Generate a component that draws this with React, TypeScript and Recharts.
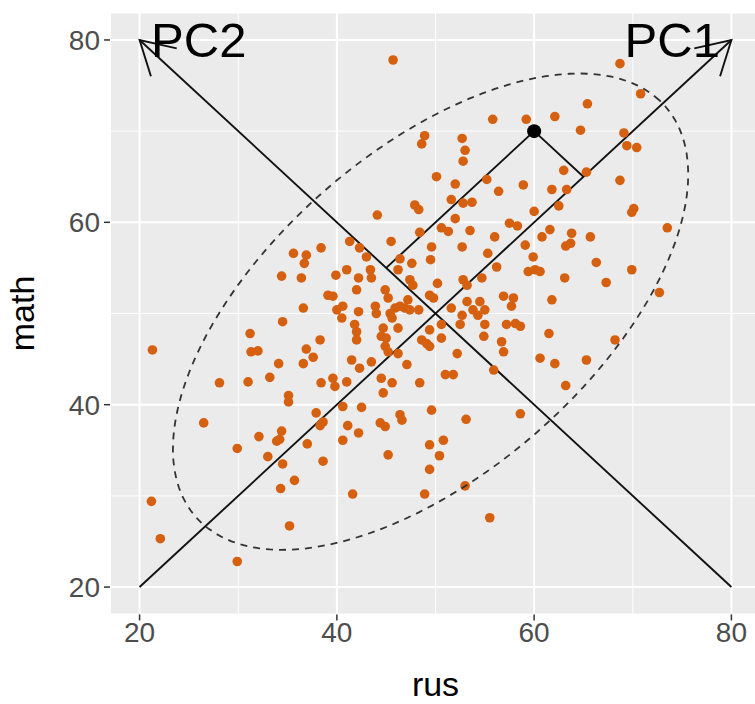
import React from 'react'
import {
  ScatterChart,
  Scatter,
  XAxis,
  YAxis,
  CartesianGrid,
  ReferenceLine,
  ReferenceDot,
} from 'recharts'

// [rus, math] pairs
const lowerLeft: [number, number][] = [
  [38.4, 57.2], [35.6, 56.6], [36.9, 56.4], [36.7, 55.5], [34.4, 54.1], [36.4, 53.9],
  [39.1, 52.0], [36.6, 50.6], [34.5, 49.1], [31.2, 47.8], [38.3, 47.1], [21.3, 46.0],
  [31.3, 45.8], [32.0, 45.9], [36.9, 46.1], [37.6, 45.2], [34.1, 44.5], [36.6, 44.5],
  [28.1, 42.4], [31.0, 42.5], [33.2, 43.0], [38.4, 42.4], [35.1, 41.0], [35.1, 40.3],
  [26.5, 38.0], [32.1, 36.5], [34.4, 37.1], [34.2, 36.2], [33.9, 36.0], [37.9, 39.1],
  [38.6, 38.1], [38.3, 37.7], [29.9, 35.2], [33.0, 34.3], [34.5, 33.5], [37.0, 35.7],
  [38.6, 33.8], [35.7, 31.7], [34.3, 30.8], [21.2, 29.4], [35.2, 26.7], [22.1, 25.3],
  [29.9, 22.8],
]

const middle: [number, number][] = [
  [45.7, 77.8], [55.8, 71.3], [48.9, 69.5], [48.6, 68.6], [52.7, 69.2], [53.0, 67.9],
  [52.8, 66.7], [50.1, 65.0], [52.0, 64.2], [55.2, 64.7], [56.4, 63.4],
  [47.9, 61.9], [48.3, 61.4], [51.6, 62.5], [52.8, 62.1], [53.7, 62.2], [44.1, 60.8],
  [52.0, 60.4], [50.6, 59.4], [51.3, 59.0], [53.5, 59.1], [57.5, 59.9], [58.3, 59.6],
  [56.0, 58.4], [45.5, 57.9], [48.4, 58.9], [41.3, 57.9], [42.3, 57.2], [43.0, 56.2],
  [49.6, 57.3], [52.7, 57.3], [55.3, 56.6], [49.5, 55.9], [56.2, 55.1], [46.4, 56.0],
  [46.2, 54.8], [47.6, 55.5], [39.9, 54.2], [41.0, 54.8], [42.2, 53.9], [43.4, 54.8],
  [43.5, 53.9], [47.4, 53.7], [47.7, 53.1], [50.2, 53.3], [52.8, 53.7], [53.2, 53.1],
  [54.7, 53.9], [39.6, 51.9], [42.0, 52.6], [44.9, 52.6], [45.2, 51.7], [47.2, 51.5],
  [49.4, 52.0], [49.8, 51.7], [53.2, 51.3], [54.5, 51.3], [55.0, 50.4], [56.9, 51.9],
  [57.9, 51.7], [57.7, 50.8], [40.0, 50.4], [40.6, 50.8], [40.5, 49.5], [42.2, 50.2],
  [43.9, 50.8], [44.0, 50.0], [45.4, 50.0], [45.9, 50.6], [46.4, 50.8], [46.9, 50.6],
  [47.4, 50.4], [48.3, 50.4], [45.6, 49.5], [51.6, 50.6], [52.7, 49.8], [52.5, 48.8],
  [53.8, 50.4], [54.3, 49.8], [41.8, 48.8], [42.0, 48.0], [42.0, 47.1], [44.7, 48.4],
  [44.5, 47.5], [45.0, 47.3], [46.2, 48.4], [44.9, 46.4], [45.2, 45.8], [50.6, 48.8],
  [49.4, 48.2], [55.0, 48.8], [57.2, 48.8], [58.1, 48.9], [58.6, 48.6], [48.6, 47.1],
  [49.1, 46.7], [49.4, 46.4], [46.2, 45.6], [50.6, 47.3], [54.9, 47.5], [56.7, 46.9],
  [56.9, 45.8], [41.5, 44.9], [43.5, 44.7], [42.3, 44.0], [52.2, 45.6], [47.1, 44.4],
  [55.9, 43.8], [51.0, 43.3], [51.8, 43.3], [48.4, 42.4], [39.6, 42.9], [39.8, 42.0],
  [41.0, 42.5], [44.5, 42.9], [45.6, 42.4], [44.7, 41.3],
]

const lowerMiddle: [number, number][] = [
  [40.6, 39.8], [42.5, 39.7], [41.1, 37.7], [42.2, 36.9], [40.6, 36.1], [44.4, 38.0],
  [44.9, 37.6], [46.4, 38.9], [46.6, 38.3], [45.2, 34.5], [49.6, 39.4], [53.1, 38.4],
  [58.6, 39.0], [49.4, 35.6], [50.8, 36.1], [50.4, 34.4], [49.4, 32.9], [41.6, 30.2],
  [48.9, 30.2], [53.0, 31.1], [55.5, 27.6],
]

const upperRight: [number, number][] = [
  [68.7, 77.4], [70.8, 74.1], [65.4, 73.0], [62.1, 71.6], [59.2, 71.3], [64.7, 70.1],
  [69.1, 69.8], [69.4, 68.4], [70.4, 68.2], [63.0, 65.7], [65.3, 65.5], [58.9, 64.1],
  [61.8, 63.6], [63.3, 63.6], [68.7, 64.6], [62.5, 61.8], [60.0, 61.2], [70.1, 61.5],
  [69.9, 61.1], [73.5, 59.4], [61.6, 59.2], [63.8, 58.8], [65.7, 58.4], [60.8, 58.4],
]

const right: [number, number][] = [
  [59.1, 57.5], [63.7, 57.7], [63.2, 57.4], [59.9, 56.2], [59.4, 54.6], [60.1, 54.8],
  [60.6, 54.6], [63.1, 53.9], [66.3, 55.6], [69.9, 54.8], [67.3, 53.4], [61.8, 51.5],
  [72.7, 52.3], [61.5, 47.8], [68.2, 47.1], [60.6, 45.1], [62.1, 44.5], [65.3, 44.9],
  [63.2, 42.1],
]

const ticks = [20, 40, 60, 80]
const minorTicks = [30, 50, 70]

// principal axes and the highlighted observation with its projections
const pc1Line = [{ x: 20, y: 20 }, { x: 80, y: 80 }]
const pc2Line = [{ x: 80, y: 20 }, { x: 20, y: 80 }]
const highlighted = { x: 60, y: 70 }
const projectionOnPc1 = { x: 65, y: 65 }
const projectionOnPc2 = { x: 45, y: 55 }

const pcLabels = [
  { rus: 26, math: 80, label: 'PC2' },
  { rus: 74, math: 80, label: 'PC1' },
]

// dashed ellipse: centre, semi-axes along PC1 / PC2
const ellipseCenter = [49.5, 50.2]
const ellipseSemiAxes = [32.8, 17.0]

const ellipse = Array.from({ length: 121 }, (_, i) => {
  const t = (i / 120) * Math.PI * 2
  const u = ellipseSemiAxes[0] * Math.cos(t)
  const v = ellipseSemiAxes[1] * Math.sin(t)
  return {
    rus: ellipseCenter[0] + (u - v) / Math.SQRT2,
    math: ellipseCenter[1] + (u + v) / Math.SQRT2,
  }
})

const points = [...lowerLeft, ...middle, ...lowerMiddle, ...upperRight, ...right].map(
  ([rus, math]) => ({ rus, math })
)

const FONT = "'Liberation Sans', Arial, Helvetica, sans-serif"
const POINT = '#D5600F'
const INK = '#111111'

const XTick = ({ x, y, payload }: any) => (
  <text x={x} y={y} dy="0.71em" textAnchor="middle" fill="#4D4D4D" fontSize={28} fontFamily={FONT}>
    {payload.value}
  </text>
)

const YTick = ({ x, y, payload }: any) => (
  <text x={x} y={y} dy="0.36em" textAnchor="end" fill="#4D4D4D" fontSize={28} fontFamily={FONT}>
    {payload.value}
  </text>
)

const Dot = ({ cx, cy }: any) => <circle cx={cx} cy={cy} r={4.8} fill={POINT} />

const NoShape = () => <g />

const PcText = ({ cx, cy, payload }: any) => (
  <text x={cx} y={cy + 17} textAnchor="middle" fill="#000" fontSize={49} fontFamily={FONT}>
    {payload.label}
  </text>
)

export default function App() {
  return (
    <div
      style={{
        position: 'fixed',
        left: 0,
        top: 0,
        width: 755,
        height: 704,
        overflow: 'hidden',
        background: '#fff',
      }}
    >
      <ScatterChart width={762} height={704} margin={{ top: 12.6, right: 1, bottom: 0, left: 0 }}>
        <defs>
          <marker
            id="pcArrow"
            markerUnits="userSpaceOnUse"
            markerWidth={80}
            markerHeight={80}
            refX={40}
            refY={40}
            orient="auto"
            overflow="visible"
          >
            <path d="M7,21 L40,40 L7,59" fill="none" stroke={INK} strokeWidth={1.9} />
          </marker>
        </defs>
        <CartesianGrid fill="#EBEBEB" fillOpacity={1} stroke="#FFFFFF" strokeWidth={2} />
        {minorTicks.map(v => (
          <ReferenceLine key={`mx-${v}`} x={v} stroke="#FFFFFF" strokeWidth={1} />
        ))}
        {minorTicks.map(v => (
          <ReferenceLine key={`my-${v}`} y={v} stroke="#FFFFFF" strokeWidth={1} />
        ))}
        <XAxis
          dataKey="rus"
          type="number"
          domain={[17, 83]}
          ticks={ticks}
          height={89.6}
          axisLine={false}
          tickSize={6}
          tickMargin={2}
          tickLine={{ stroke: '#333333', strokeWidth: 1.5 }}
          tick={<XTick />}
          label={{ value: 'rus', position: 'insideBottom', offset: 8, fontSize: 34, fill: '#000', fontFamily: FONT }}
        />
        <YAxis
          dataKey="math"
          type="number"
          domain={[17, 83]}
          ticks={ticks}
          width={110}
          axisLine={false}
          tickSize={6}
          tickMargin={4}
          tickLine={{ stroke: '#333333', strokeWidth: 1.5 }}
          tick={<YTick />}
          label={{
            value: 'math',
            angle: -90,
            position: 'insideLeft',
            offset: 22,
            fontSize: 34,
            fill: '#000',
            fontFamily: FONT,
            style: { textAnchor: 'middle' },
          }}
        />
        <Scatter data={points} shape={<Dot />} isAnimationActive={false} />
        <Scatter
          data={ellipse}
          shape={<NoShape />}
          line={{ stroke: '#333333', strokeWidth: 1.8, strokeDasharray: '7 6', fill: 'none' }}
          lineType="joint"
          isAnimationActive={false}
        />
        <ReferenceLine segment={pc1Line} stroke={INK} strokeWidth={1.9} markerEnd="url(#pcArrow)" />
        <ReferenceLine segment={pc2Line} stroke={INK} strokeWidth={1.9} markerEnd="url(#pcArrow)" />
        <ReferenceLine segment={[highlighted, projectionOnPc1]} stroke={INK} strokeWidth={1.9} />
        <ReferenceLine segment={[highlighted, projectionOnPc2]} stroke={INK} strokeWidth={1.9} />
        <ReferenceDot x={highlighted.x} y={highlighted.y} r={7} fill="#000" stroke="none" />
        <Scatter data={pcLabels} shape={<PcText />} isAnimationActive={false} />
      </ScatterChart>
    </div>
  )
}
